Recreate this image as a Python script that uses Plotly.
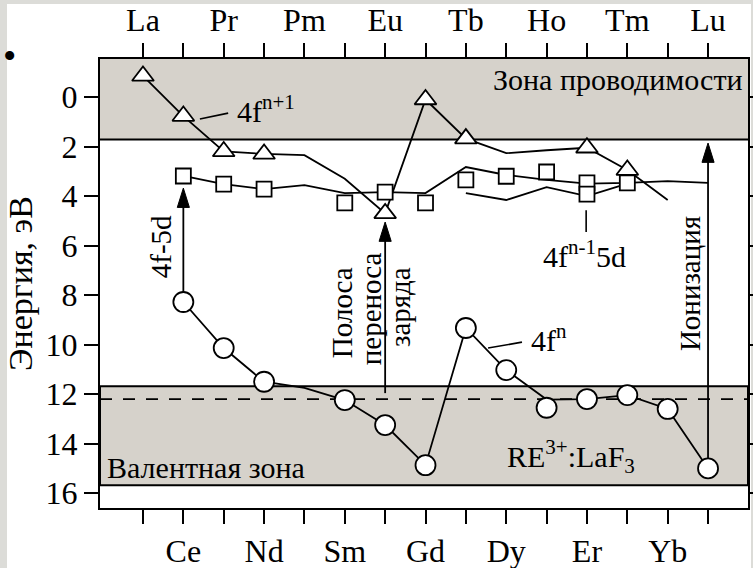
import plotly.graph_objects as go

# ---------------- data ----------------
elements = ["La", "Ce", "Pr", "Nd", "Pm", "Sm", "Eu", "Gd", "Tb", "Dy", "Ho", "Er", "Tm", "Yb", "Lu"]
top_labels = ["La", "Pr", "Pm", "Eu", "Tb", "Ho", "Tm", "Lu"]
bottom_labels = ["Ce", "Nd", "Sm", "Gd", "Dy", "Er", "Yb"]
y_ticks = [0, 2, 4, 6, 8, 10, 12, 14, 16]

# band edges (eV)
cb_bottom = 1.72
vb_top = 11.68
vb_bottom = 15.68
vb_dashed = 12.2

# 4f^{n+1} (triangles)
tri_line_el = ["La", "Ce", "Pr", "Nd", "Pm", "Sm", "Eu", "Gd", "Tb", "Dy", "Ho", "Er", "Tm", "Yb"]
tri_line_E = [-0.85, 0.77, 2.2, 2.3, 2.35, 3.3, 4.7, 0.1, 1.68, 2.27, 2.15, 2.05, 2.95, 4.16]
tri_mark_el = ["La", "Ce", "Pr", "Nd", "Eu", "Gd", "Tb", "Er", "Tm"]
tri_mark_E = [-0.85, 0.77, 2.2, 2.3, 4.7, 0.1, 1.68, 2.05, 2.95]

# 4f^{n-1}5d (squares)
sqA_el = ["Ce", "Pr", "Nd", "Pm", "Sm", "Eu", "Gd", "Tb", "Dy", "Ho", "Er", "Tm", "Yb", "Lu"]
sqA_E = [3.19, 3.52, 3.72, 3.56, 3.88, 3.84, 3.88, 2.83, 3.15, 3.35, 3.5, 3.47, 3.4, 3.47]
sqB_el = ["Tb", "Dy", "Ho", "Er", "Tm"]
sqB_E = [3.88, 4.16, 3.64, 4.0, 3.5]
sq_mark_el = ["Ce", "Pr", "Nd", "Sm", "Eu", "Gd", "Tb", "Dy", "Ho", "Er", "Er", "Tm"]
sq_mark_E = [3.19, 3.52, 3.72, 4.28, 3.84, 4.28, 3.35, 3.2, 3.03, 3.47, 3.92, 3.47]

# 4f^n (circles)
circ_line_el = ["Ce", "Pr", "Nd", "Pm", "Sm", "Eu", "Gd", "Tb", "Dy", "Ho", "Er", "Tm", "Yb", "Lu"]
circ_line_E = [8.28, 10.14, 11.5, 11.75, 12.24, 13.25, 14.87, 9.33, 11.03, 12.22, 12.2, 12.04, 12.6, 15.0]
circ_mark_el = ["Ce", "Pr", "Nd", "Sm", "Eu", "Gd", "Tb", "Dy", "Ho", "Er", "Tm", "Yb", "Lu"]
circ_mark_E = [8.28, 10.14, 11.5, 12.24, 13.25, 14.87, 9.33, 11.03, 12.55, 12.2, 12.04, 12.6, 15.0]

# transitions (arrows)
arrow_el = ["Ce", "Eu", "Lu"]
arrow_from = [8.28, 11.96, 15.0]
arrow_to = [3.68, 5.05, 1.86]

# ---------------- helpers ----------------
idx = {e: i for i, e in enumerate(elements)}
def xs(els):
    return [idx[e] for e in els]

FONT = "'Liberation Serif', 'Times New Roman', Times, 'DejaVu Serif', serif"
BAND = "#d6d2cb"
PAGE = "#dcdcd8"
LW = 1.8

fig = go.Figure()

# arrows (shaft + filled head)
HW, HL = 0.15, 0.78
for el, y0, y1 in zip(arrow_el, arrow_from, arrow_to):
    x = idx[el]
    fig.add_trace(go.Scatter(x=[x, x], y=[y0, y1 + HL * 0.5], mode="lines",
                             line=dict(color="black", width=LW), hoverinfo="skip", showlegend=False))
    fig.add_trace(go.Scatter(x=[x - HW, x, x + HW, x - HW], y=[y1 + HL, y1, y1 + HL, y1 + HL],
                             mode="lines", fill="toself", fillcolor="black",
                             line=dict(color="black", width=1), hoverinfo="skip", showlegend=False))

# connecting lines
for els, E in [(tri_line_el, tri_line_E), (sqA_el, sqA_E), (sqB_el, sqB_E), (circ_line_el, circ_line_E)]:
    fig.add_trace(go.Scatter(x=xs(els), y=E, mode="lines",
                             line=dict(color="black", width=LW), hoverinfo="skip", showlegend=False))

# markers
fig.add_trace(go.Scatter(x=xs(tri_mark_el), y=tri_mark_E, mode="markers", showlegend=False,
                         marker=dict(symbol="triangle-up", size=19, color="white",
                                     line=dict(color="black", width=1.8))))
fig.add_trace(go.Scatter(x=xs(sq_mark_el), y=sq_mark_E, mode="markers", showlegend=False,
                         marker=dict(symbol="square", size=15, color="white",
                                     line=dict(color="black", width=1.8))))
fig.add_trace(go.Scatter(x=xs(circ_mark_el), y=circ_mark_E, mode="markers", showlegend=False,
                         marker=dict(symbol="circle", size=20, color="white",
                                     line=dict(color="black", width=1.8))))

# dummy trace for top axis
fig.add_trace(go.Scatter(x=[0], y=[0], xaxis="x2", mode="markers", marker=dict(opacity=0),
                         hoverinfo="skip", showlegend=False))

XR = [-1.065, 14.99]
YR = [16.6, -1.535]

shapes = [
    dict(type="rect", xref="paper", yref="paper", x0=-0.1435, x1=1.0046, y0=-0.1336, y1=1.1225,
         fillcolor="white", line=dict(width=0), layer="below"),
    dict(type="rect", xref="paper", yref="y", x0=0, x1=1, y0=YR[1], y1=cb_bottom,
         fillcolor=BAND, line=dict(width=0), layer="below"),
    dict(type="line", xref="paper", yref="y", x0=0, x1=1, y0=cb_bottom, y1=cb_bottom,
         line=dict(color="black", width=2), layer="below"),
    dict(type="rect", xref="paper", yref="y", x0=0, x1=1, y0=vb_top, y1=vb_bottom,
         fillcolor=BAND, line=dict(color="black", width=2), layer="below"),
    dict(type="line", xref="paper", yref="y", x0=0, x1=1, y0=vb_dashed, y1=vb_dashed,
         line=dict(color="black", width=1.8, dash="12px,11px"), layer="below"),
    dict(type="line", xref="x", yref="y", x0=1.41, y0=0.89, x1=2.11, y1=0.65,
         line=dict(color="black", width=1.6)),
    dict(type="line", xref="x", yref="y", x0=8.55, y0=10.14, x1=9.39, y1=9.9,
         line=dict(color="black", width=1.6)),
    dict(type="line", xref="x", yref="y", x0=10.98, y0=4.57, x1=10.98, y1=5.45,
         line=dict(color="black", width=1.6)),
]

TF = dict(family=FONT, size=30, color="black")
RF = dict(family=FONT, size=29, color="black")
annotations = [
    dict(x=11.77, y=-0.69, text="Зона проводимости", font=TF),
    dict(x=1.57, y=14.95, text="Валентная зона", font=TF),
    dict(x=10.6, y=14.53, text="RE<sup>3+</sup>:LaF<sub>3</sub>", font=TF),
    dict(x=3.05, y=0.5, text="4f<sup>n+1</sup>", font=TF),
    dict(x=10.06, y=9.72, text="4f<sup>n</sup>", font=TF),
    dict(x=10.93, y=6.36, text="4f<sup>n-1</sup>5d", font=TF),
    dict(x=0.45, y=6.06, text="4f-5d", textangle=-90, font=RF),
    dict(x=4.93, y=8.69, text="Полоса", textangle=-90, font=RF),
    dict(x=5.65, y=8.57, text="переноса", textangle=-90, font=RF),
    dict(x=6.37, y=8.48, text="заряда", textangle=-90, font=RF),
    dict(x=13.55, y=7.52, text="Ионизация", textangle=-90, font=RF),
]
for a in annotations:
    a.update(xref="x", yref="y", showarrow=False, xanchor="center", yanchor="middle")
annotations.append(dict(xref="paper", yref="paper", x=-0.1535, y=1.006, text="•", showarrow=False,
                        font=dict(family=FONT, size=38, color="black"), xanchor="left", yanchor="middle"))

bottom_text = [e if e in bottom_labels else "" for e in elements]
top_vals = [idx[e] for e in top_labels]
TICKF = dict(family=FONT, size=32, color="black")

fig.update_layout(
    width=753, height=568,
    margin=dict(l=100, r=5, t=59, b=60, autoexpand=False),
    paper_bgcolor=PAGE, plot_bgcolor="white",
    shapes=shapes, annotations=annotations,
    font=dict(family=FONT, color="black"),
    xaxis=dict(range=XR, tickvals=list(range(len(elements))), ticktext=bottom_text,
               ticks="outside", ticklen=14, tickwidth=2, tickcolor="black",
               showline=True, linewidth=2, linecolor="black", mirror="ticks",
               showgrid=False, zeroline=False, tickfont=TICKF, automargin=False),
    xaxis2=dict(range=XR, overlaying="x", side="top", tickvals=top_vals, ticktext=top_labels,
                ticks="outside", ticklen=14, tickwidth=2, tickcolor="black",
                showline=False, showgrid=False, zeroline=False, tickfont=TICKF, automargin=False),
    yaxis=dict(range=YR, tickvals=y_ticks, ticktext=[str(v) for v in y_ticks],
               ticks="outside", ticklen=14, tickwidth=2, tickcolor="black",
               showline=True, linewidth=2, linecolor="black", mirror="ticks",
               showgrid=False, zeroline=False, tickfont=TICKF, automargin=False,
               title=dict(text="Энергия, эВ", font=dict(family=FONT, size=34, color="black"), standoff=3)),
)

fig.write_html("out.html")
